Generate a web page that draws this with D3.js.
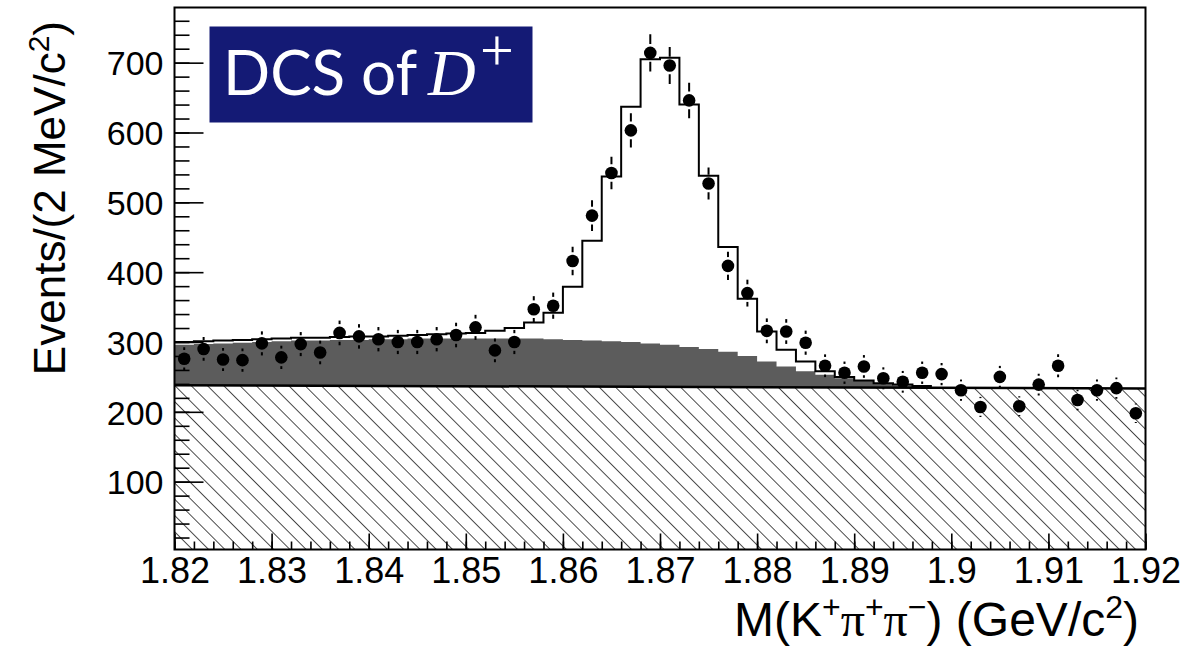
<!DOCTYPE html>
<html><head><meta charset="utf-8">
<script src="https://cdn.jsdelivr.net/npm/d3@7"></script>
<style>
html,body{margin:0;padding:0;background:#fff;}
svg{display:block;}
</style></head><body>
<svg id="chart" width="1181" height="647"></svg>
<script>
// Bin centres of the K+ pi+ pi- invariant mass histogram (2 MeV bins)
const binCenters = [1.821,1.823,1.825,1.827,1.829,1.831,1.833,1.835,1.837,1.839,
  1.841,1.843,1.845,1.847,1.849,1.851,1.853,1.855,1.857,1.859,
  1.861,1.863,1.865,1.867,1.869,1.871,1.873,1.875,1.877,1.879,
  1.881,1.883,1.885,1.887,1.889,1.891,1.893,1.895,1.897,1.899,
  1.901,1.903,1.905,1.907,1.909,1.911,1.913,1.915,1.917,1.919];
const binWidth = 0.002;

// Observed events per bin
const dataCounts = [276,290,275,274,298,278,297,285,313,308,
  304,300,300,304,310,321,288,300,347,352,
  416,481,542,603,714,696,646,527,409,370,
  316,315,299,266,256,265,248,243,256,254,
  231,207,250,208,239,266,217,231,234,198];

// Total fit (signal + backgrounds), drawn as a step histogram
const totalFit = [300,301,302,303,304,305,306,306,307,308,
  308,309,310,311,312,313,316,320,328,342,
  379,445,537,637,705,707,640,538,436,362,
  315,289,272,258,250,245,241,239,237,null,
  null,null,null,null,null,null,null,null,null,null];

// Peaking background (stacked on the flat background), grey
const peakingBkg = [296,297,298,299,300,301,302,302,303,303,
  304,304,305,305,305,305,305,305,305,304,
  303,302,301,300,298,296,293,290,286,280,
  272,265,258,253,248,245,241,238,236,null,
  null,null,null,null,null,null,null,null,null,null];

// Flat combinatorial background, hatched
const flatBkgX = [1.82, 1.92];
const flatBkgY = [238, 233.5];

const xTickValues = [1.82,1.83,1.84,1.85,1.86,1.87,1.88,1.89,1.90,1.91,1.92];
const xTickLabels = ["1.82","1.83","1.84","1.85","1.86","1.87","1.88","1.89","1.9","1.91","1.92"];
const yTickValues = [100,200,300,400,500,600,700];
const yTickLabels = ["100","200","300","400","500","600","700"];

const svg = d3.select("#chart");
const L = 174.5, R = 1145.5, T = 7.5, B = 549.5;

const x = d3.scaleLinear().domain([1.82, 1.92]).range([L, R]);
const y = d3.scaleLinear().domain([2.86, 779]).range([B, T]);

const defs = svg.append("defs");
defs.append("clipPath").attr("id", "plotClip")
  .append("rect").attr("x", L).attr("y", T).attr("width", R - L).attr("height", B - T);
const hs = 11.5;
const hatch = defs.append("pattern").attr("id", "hatch")
  .attr("patternUnits", "userSpaceOnUse").attr("width", hs).attr("height", hs)
  .attr("patternTransform", "rotate(-45)");
hatch.append("rect").attr("width", hs).attr("height", hs).attr("fill", "#fff");
hatch.append("line").attr("x1", 0).attr("y1", 0).attr("x2", 0).attr("y2", hs)
  .attr("stroke", "#000").attr("stroke-width", 1.4);

const plot = svg.append("g").attr("clip-path", "url(#plotClip)");

// step outline from per-bin values
function stepPoints(values) {
  const pts = [];
  values.forEach((v, i) => {
    if (v == null) return;
    pts.push([binCenters[i] - binWidth / 2, v]);
    pts.push([binCenters[i] + binWidth / 2, v]);
  });
  return pts;
}

// grey peaking background
const greyPts = stepPoints(peakingBkg);
plot.append("path")
  .datum(greyPts)
  .attr("fill", "#5c5c5c")
  .attr("d", d3.area().x(d => x(d[0])).y0(B + 2).y1(d => y(d[1])));

// hatched flat background
const flatPts = flatBkgX.map((v, i) => [v, flatBkgY[i]]);
plot.append("path")
  .datum(flatPts)
  .attr("fill", "url(#hatch)")
  .attr("d", d3.area().x(d => x(d[0])).y0(B + 2).y1(d => y(d[1])));
plot.append("path")
  .datum(flatPts)
  .attr("fill", "none").attr("stroke", "#000").attr("stroke-width", 2.5)
  .attr("d", d3.line().x(d => x(d[0])).y(d => y(d[1])));

// total fit step line
plot.append("path")
  .datum(stepPoints(totalFit))
  .attr("fill", "none").attr("stroke", "#000").attr("stroke-width", 2)
  .attr("d", d3.line().x(d => x(d[0])).y(d => y(d[1])));

// data points with Poisson error bars
const rMark = 6.3, gap = 2.5;
const pts = plot.append("g");
binCenters.forEach((c, i) => {
  const v = dataCounts[i], e = Math.sqrt(v);
  const cx = x(c), cy = y(v);
  const yTop = y(v + e), yBot = y(v - e);
  if (cy - rMark - gap > yTop)
    pts.append("line").attr("x1", cx).attr("x2", cx).attr("y1", yTop).attr("y2", cy - rMark - gap)
      .attr("stroke", "#000").attr("stroke-width", 2);
  if (cy + rMark + gap < yBot)
    pts.append("line").attr("x1", cx).attr("x2", cx).attr("y1", cy + rMark + gap).attr("y2", yBot)
      .attr("stroke", "#000").attr("stroke-width", 2);
  pts.append("circle").attr("cx", cx).attr("cy", cy).attr("r", rMark).attr("fill", "#000");
});

// axes
const tickFont = "'Liberation Sans', Arial, Helvetica, sans-serif";
const xMinor = [];
for (let k = 0; k <= 50; k++) xMinor.push(1.82 + k * binWidth);
const yMinor = [];
for (let k = 1; k <= 38; k++) yMinor.push(k * 20);

const gxMinor = svg.append("g").attr("transform", `translate(0,${B})`)
  .call(d3.axisBottom(x).tickValues(xMinor).tickSize(-8).tickFormat(""));
const gx = svg.append("g").attr("transform", `translate(0,${B})`)
  .call(d3.axisBottom(x).tickValues(xTickValues).tickSize(-16).tickPadding(8)
    .tickFormat((d, i) => xTickLabels[i]));
const gyMinor = svg.append("g").attr("transform", `translate(${L},0)`)
  .call(d3.axisLeft(y).tickValues(yMinor).tickSize(-15).tickFormat(""));
const gy = svg.append("g").attr("transform", `translate(${L},0)`)
  .call(d3.axisLeft(y).tickValues(yTickValues).tickSize(-29).tickPadding(11)
    .tickFormat((d, i) => yTickLabels[i]));
[gxMinor, gx, gyMinor, gy].forEach(g => {
  g.select(".domain").remove();
  g.selectAll(".tick line").attr("stroke", "#000").attr("stroke-width", 1.6);
  g.selectAll("text").attr("font-family", tickFont).attr("font-size", 34).attr("fill", "#000");
});
gx.selectAll("text").attr("font-size", 36).attr("dy", "0.72em");
gy.selectAll("text").attr("dy", "0.36em");

// frame
svg.append("rect").attr("x", L).attr("y", T).attr("width", R - L).attr("height", B - T)
  .attr("fill", "none").attr("stroke", "#000").attr("stroke-width", 2);

// axis titles
const yTitle = svg.append("text")
  .attr("transform", `translate(65,21) rotate(-90)`)
  .attr("text-anchor", "end")
  .attr("font-family", tickFont).attr("font-size", 44).attr("fill", "#000");
yTitle.append("tspan").text("Events/(2 MeV/c");
yTitle.append("tspan").attr("font-size", 30).attr("baseline-shift", "55%").text("2");
yTitle.append("tspan").text(")");

const xTitle = svg.append("text")
  .attr("x", 1139).attr("y", 636)
  .attr("text-anchor", "end")
  .attr("font-family", tickFont).attr("font-size", 48).attr("fill", "#000");
xTitle.append("tspan").text("M(K");
xTitle.append("tspan").attr("font-size", 32).attr("baseline-shift", "55%").text("+");
xTitle.append("tspan").attr("font-family", "'Liberation Serif', serif").text("π");
xTitle.append("tspan").attr("font-size", 32).attr("baseline-shift", "55%").text("+");
xTitle.append("tspan").attr("font-family", "'Liberation Serif', serif").text("π");
xTitle.append("tspan").attr("font-size", 32).attr("baseline-shift", "55%").text("−");
xTitle.append("tspan").text(") (GeV/c");
xTitle.append("tspan").attr("font-size", 32).attr("baseline-shift", "55%").text("2");
xTitle.append("tspan").text(")");

// label box
svg.append("rect").attr("x", 209.5).attr("y", 26.5).attr("width", 323).attr("height", 96)
  .attr("fill", "#141a75");
svg.append("text").attr("x", 223).attr("y", 95)
  .attr("font-family", "Lato, 'Open Sans', sans-serif").attr("font-size", 62).attr("fill", "#fff")
  .text("DCS of");
svg.append("text").attr("x", 428).attr("y", 95)
  .attr("font-family", "'Liberation Serif', 'DejaVu Serif', serif").attr("font-style", "italic")
  .attr("font-size", 66).attr("fill", "#fff").text("D");
svg.append("text").attr("x", 480).attr("y", 70)
  .attr("font-family", "'Liberation Serif', 'DejaVu Serif', serif")
  .attr("font-size", 60).attr("fill", "#fff").text("+");
</script>
</body></html>
